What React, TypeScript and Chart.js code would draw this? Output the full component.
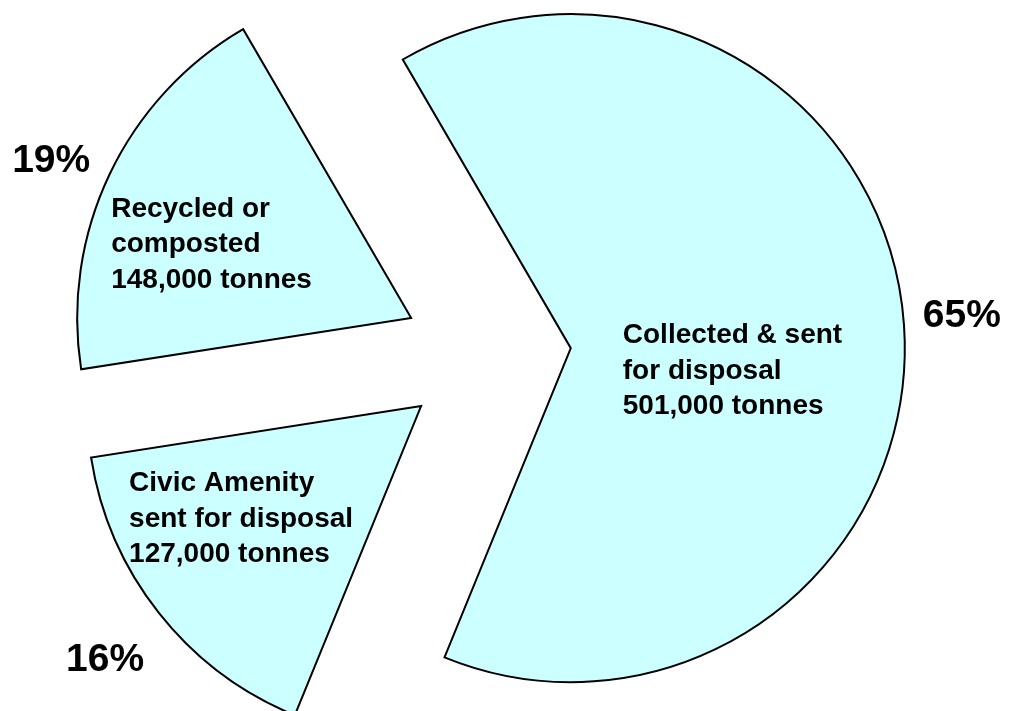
import { useEffect, useRef } from "react";
import { Chart, ArcElement, PieController } from "chart.js";

Chart.register(PieController, ArcElement);

// Household waste streams, clockwise from the upper left edge of the big slice
const categories = [
  ["Collected & sent", "for disposal"],
  ["Civic Amenity", "sent for disposal"],
  ["Recycled or", "composted"],
];
const tonnes = [501000, 127000, 148000];

const FILL = "#CCFFFF";
const EXPLODE = 84; // px each slice is pulled out along its bisector
const FONT = '"Liberation Sans", Arial, Helvetica, sans-serif';
const LINE_HEIGHT = 35.5;

// Text placement relative to each slice's (exploded) tip
const labelLayout = [
  { textDx: 52, textDy: -5, pctDx: 352, pctDy: -21 },
  { textDx: -292, textDy: 85, pctDx: -355, pctDy: 265 },
  { textDx: -300, textDy: -101, pctDx: -399, pctDy: -146 },
];

const total = tonnes.reduce((a, b) => a + b, 0);
const percentText = tonnes.map((v) => `${Math.round((v / total) * 100)}%`);
const tonnesText = tonnes.map((v) => `${v.toLocaleString("en-US")} tonnes`);

const explodePlugin = {
  id: "explodeSlices",
  afterDatasetsUpdate(chart: any) {
    chart.getDatasetMeta(0).data.forEach((arc: any) => {
      const mid = (arc.startAngle + arc.endAngle) / 2;
      arc.x += Math.cos(mid) * EXPLODE;
      arc.y += Math.sin(mid) * EXPLODE;
    });
  },
};

const sliceLabelPlugin = {
  id: "sliceLabels",
  afterDatasetsDraw(chart: any) {
    const ctx = chart.ctx as CanvasRenderingContext2D;
    const arcs = chart.getDatasetMeta(0).data;
    ctx.save();
    ctx.fillStyle = "#000";
    ctx.textAlign = "left";
    ctx.textBaseline = "alphabetic";
    arcs.forEach((arc: any, i: number) => {
      const p = labelLayout[i];
      const lines = [...categories[i], tonnesText[i]];
      ctx.font = `bold 28px ${FONT}`;
      lines.forEach((line, k) => {
        ctx.fillText(line, arc.x + p.textDx, arc.y + p.textDy + k * LINE_HEIGHT);
      });
      ctx.font = `bold 39px ${FONT}`;
      ctx.fillText(percentText[i], arc.x + p.pctDx, arc.y + p.pctDy);
    });
    ctx.restore();
  },
};

export default function App() {
  const canvasRef = useRef<HTMLCanvasElement | null>(null);

  useEffect(() => {
    if (!canvasRef.current) return;
    const chart = new Chart(canvasRef.current, {
      type: "pie",
      data: {
        labels: categories.map((c) => c.join(" ")),
        datasets: [
          {
            data: tonnes,
            backgroundColor: FILL,
            borderColor: "#000000",
            borderWidth: 2,
            borderJoinStyle: "miter",
            clip: false,
          } as any,
        ],
      },
      options: {
        animation: false,
        responsive: false,
        events: [],
        rotation: -30.2,
        radius: 334,
        layout: { padding: { left: 0, right: 36, top: 0, bottom: 3 } },
        plugins: {
          legend: { display: false },
          tooltip: { enabled: false },
        },
      } as any,
      plugins: [explodePlugin, sliceLabelPlugin],
    });
    return () => chart.destroy();
  }, []);

  return (
    <div style={{ position: "absolute", left: 0, top: 0, width: 1010, height: 711, background: "#fff" }}>
      <canvas ref={canvasRef} width={1010} height={711} style={{ display: "block" }} />
    </div>
  );
}
